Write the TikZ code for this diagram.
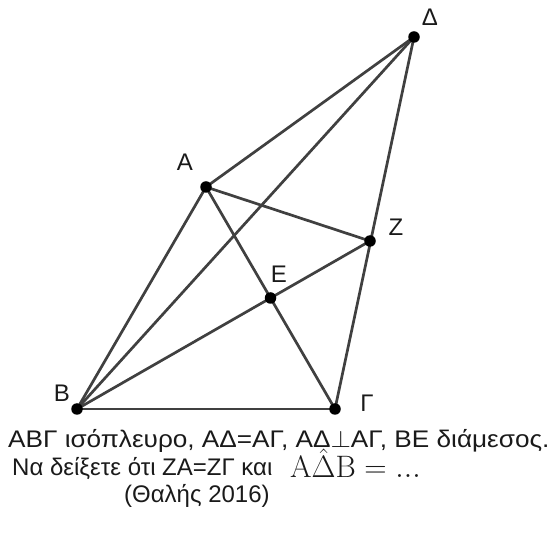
\documentclass[tikz,border=0pt]{standalone}
\usepackage{fix-cm}
\usepackage[no-math]{fontspec}
\setmainfont{Liberation Sans}
\definecolor{segc}{HTML}{404040}
\definecolor{txtc}{HTML}{1A1A1A}
\begin{document}
\begin{tikzpicture}[x=1pt,y=-1pt,
  seg/.style={draw=segc, line width=2.7pt},
  ptdot/.style={circle, fill=black, inner sep=0pt, minimum size=11.5pt},
  lbl/.style={font=\fontsize{24}{28}\selectfont, text=txtc, inner sep=0pt},
  txt/.style={font=\fontsize{24}{28}\selectfont, text=txtc, inner sep=0pt, anchor=base west}]
\useasboundingbox (0,0) rectangle (552,534);
\coordinate (B) at (77,409);
\coordinate (G) at (335,409);
\coordinate (A) at (206,187);
\coordinate (D) at (414,37);
\coordinate (Z) at (370,241);
\coordinate (E) at (270.5,298);
\draw[seg] (B) -- (G);
\draw[seg] (A) -- (B);
\draw[seg] (A) -- (G);
\draw[seg] (A) -- (D);
\draw[seg] (B) -- (D);
\draw[seg] (D) -- (G);
\draw[seg] (A) -- (Z);
\draw[seg] (B) -- (Z);
\foreach \p in {A,B,G,D,Z,E} { \node[ptdot] (dot\p) at (\p) {}; }
\node[lbl] (lA) at (185,162) {Α};
\node[lbl] (lB) at (62,393) {Β};
\node[lbl] (lG) at (367,403) {Γ};
\node[lbl] (lD) at (430,17) {Δ};
\node[lbl] (lZ) at (396,227) {Ζ};
\node[lbl] (lE) at (279,274) {Ε};
\node[txt, xscale=1.09, transform shape] (t1) at (8,448) {ΑΒΓ ισόπλευρο, ΑΔ=ΑΓ, ΑΔ$\perp$ΑΓ, ΒΕ διάμεσος.};
\node[txt] (t2) at (12,476) {Να δείξετε ότι ΖΑ=ΖΓ και};
\node[anchor=base west, inner sep=0pt, text=txtc, font=\fontsize{31}{36}\selectfont] (t2m) at (290,478) {$\mathrm{A}\hat{\Delta}\mathrm{B} = ...$};
\node[txt] (t3) at (124,503) {(Θαλής 2016)};
\end{tikzpicture}
\end{document}
